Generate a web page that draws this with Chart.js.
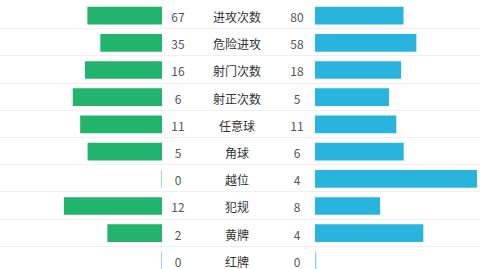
<!DOCTYPE html>
<html>
<head>
<meta charset="utf-8">
<script src="https://cdn.jsdelivr.net/npm/chart.js@4/dist/chart.umd.min.js"></script>
<style>
  body { margin: 0; background: #fff; overflow: hidden; }
  #wrap { position: relative; width: 480px; height: 272px; margin-top: 2px; }
  .row { position: relative; height: 27.2px; box-sizing: border-box; border-bottom: 1px solid #f0f0f0;
         font-family: "Noto Sans CJK SC", "Noto Sans", sans-serif; font-size: 12px; line-height: 27px; }
  .row span { position: absolute; top: 1px; text-align: center; }
  .num { color: #555; width: 40px; }
  .lbl { color: #333; width: 80px; left: 197px; }
  .chartBox { position: absolute; top: 0; height: 272px; }
</style>
</head>
<body>
<div id="wrap">
  <div id="rows"></div>
  <div class="chartBox" style="left:-1px;width:163px"><canvas id="leftChart"></canvas></div>
  <div class="chartBox" style="left:315px;width:162px"><canvas id="rightChart"></canvas></div>
</div>
<script>
const categories = ["进攻次数", "危险进攻", "射门次数", "射正次数", "任意球", "角球", "越位", "犯规", "黄牌", "红牌"];
const homeValues = [67, 35, 16, 6, 11, 5, 0, 12, 2, 0];
const awayValues = [80, 58, 18, 5, 11, 6, 4, 8, 4, 0];

const green = "#22b46c";
const blue = "#28b4dc";

// each bar shows that side's share of the row total
function share(a, b) {
  const total = a + b;
  return total ? a / total : 0;
}
const homeShare = homeValues.map((v, i) => share(v, awayValues[i]));
const awayShare = awayValues.map((v, i) => share(v, homeValues[i]));

// middle column: numbers and labels, plus the row separators
const rows = document.getElementById("rows");
categories.forEach((c, i) => {
  const row = document.createElement("div");
  row.className = "row";
  row.innerHTML = `<span class="num" style="left:158px">${homeValues[i]}</span>` +
    `<span class="lbl">${c}</span>` +
    `<span class="num" style="left:277px">${awayValues[i]}</span>`;
  rows.appendChild(row);
});

function makeChart(id, data, color, fade, reverse) {
  return new Chart(document.getElementById(id), {
    type: "bar",
    data: {
      labels: categories,
      datasets: [{
        data: data,
        backgroundColor: (ctx) => (ctx.raw === 0 ? fade : color),
        borderWidth: 0,
        barThickness: 17,
        minBarLength: 1,
      }],
    },
    options: {
      indexAxis: "y",
      responsive: true,
      maintainAspectRatio: false,
      animation: false,
      layout: { padding: 0 },
      plugins: { legend: { display: false }, tooltip: { enabled: false } },
      scales: {
        x: { display: false, min: 0, max: 1, reverse: reverse },
        y: { display: false, offset: true },
      },
    },
  });
}

makeChart("leftChart", homeShare, green, "rgba(34,180,108,0.55)", true);
makeChart("rightChart", awayShare, blue, "rgba(40,180,220,0.55)", false);
</script>
</body>
</html>
